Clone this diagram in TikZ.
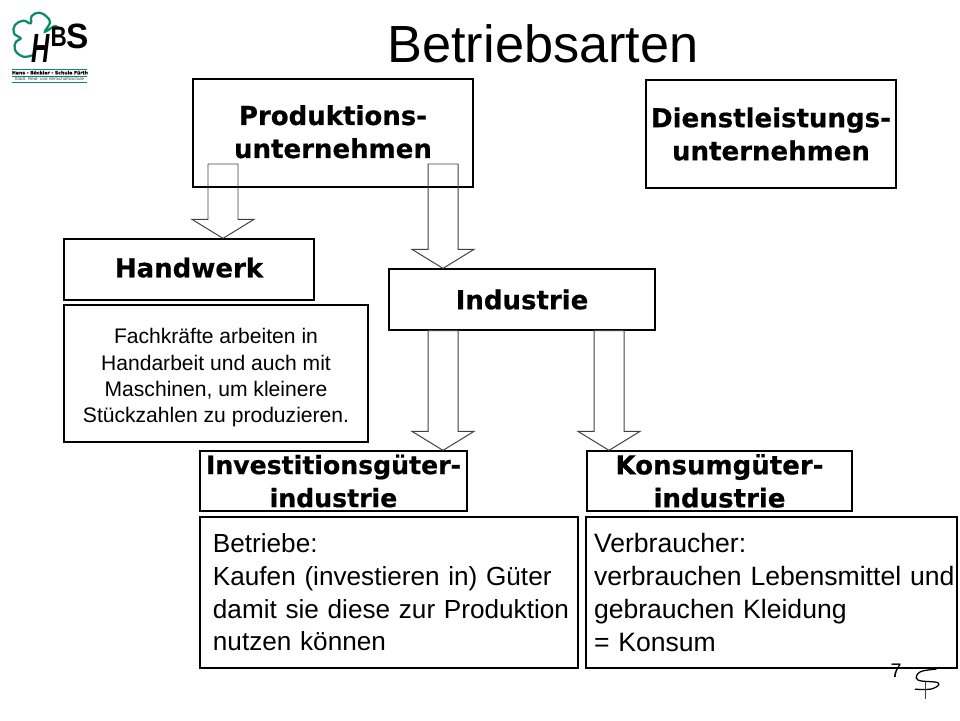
\documentclass[tikz,border=0pt]{standalone}
\usepackage{fontspec}
\setmainfont{Liberation Sans}
\newfontfamily\headfont[BoldFont={DejaVu Sans Bold}, BoldFeatures={FakeBold=0.6}]{DejaVu Sans}
\usepackage{tikz}
\usetikzlibrary{calc}
\definecolor{gray1}{rgb}{0.25, 0.25, 0.25}
\definecolor{green1}{rgb}{0.05, 0.55, 0.42}
\newcommand{\blockarrow}[2]{
\draw [hollow] ($(#1)+(-0.375,0)$)--($(#2)+(-0.375,0.475)$)--($(#2)+(-0.775,0.475)$)--(#2)--($(#2)+(0.775,0.475)$)--($(#2)+(0.375,0.475)$)--($(#1)+(0.375,0)$)--cycle;
}

\begin{document}
\begin{tikzpicture}
\tikzstyle{box} = [draw, line width = 0.9pt, inner sep=0pt];
\tikzstyle{head} = [box, font=\headfont\bfseries\fontsize{18.5}{23.5}\selectfont, align=center];
\tikzstyle{small} = [box, font=\fontsize{15}{18.7}\selectfont, align=center];
\tikzstyle{big} = [box, font=\fontsize{18.9}{23.3}\selectfont, align=left];
\tikzstyle{hollow} = [line width = 0.7pt, color=gray1];
\tikzstyle{clover} = [line width = 1.6pt, color=green1, line cap=round];
\tikzstyle{letter} = [inner sep=0pt, transform shape];

\useasboundingbox (0,0) rectangle (24,18);

\node (title) [font=\fontsize{37.2}{40}\selectfont] at (13.575,16.9) {Betriebsarten};

\node (prod) [head, minimum width=7cm, minimum height=2.7cm] at (8.325,14.675) {Produktions-\\unternehmen\rule[-2pt]{0pt}{2pt}};
\node (dienst) [head, minimum width=6.25cm, minimum height=2.7cm] at (19.275,14.65) {Dienstleistungs-\\unternehmen};
\node (hand) [head, minimum width=6.25cm, minimum height=1.525cm] at (4.725,11.2625) {Handwerk\rule[-3pt]{0pt}{3pt}};
\node (fach) [small, minimum width=7.6cm, minimum height=3.425cm] at (5.4,8.6625) {\rule{0pt}{17pt}Fachkräfte arbeiten in\\Handarbeit und auch mit\\Maschinen, um kleinere\\Stückzahlen zu produzieren.};
\node (ind) [head, minimum width=6.65cm, minimum height=1.525cm] at (13.05,10.5125) {Industrie};
\node (inv) [head, font=\headfont\bfseries\fontsize{17.9}{23.5}\selectfont, minimum width=6.675cm, minimum height=1.5cm] at (8.3375,5.975) {Investitionsgüter-\\industrie};
\node (kons) [head, minimum width=6.625cm, minimum height=1.5cm] at (17.9875,5.975) {Konsumgüter-\\industrie};
\node (betr) [big, font=\fontsize{18.6}{23.3}\selectfont, text width=9.45cm, minimum height=3.775cm, execute at begin node={\leftskip=9.2pt}] at (9.725,3.1875) {Betriebe:\\Kaufen (investieren in) Güter\\damit sie diese zur Produktion\\nutzen können};
\node (verb) [big, text width=9.275cm, minimum height=3.775cm, execute at begin node={\leftskip=5.7pt}] at (19.2875,3.1875) {Verbraucher:\\verbrauchen Lebensmittel und\\gebrauchen Kleidung\\= Konsum};

\coordinate (handtop) at (5.575,13.9);
\coordinate (indtop) at (11.075,13.9);
\coordinate (handtip) at (hand.north -| handtop);
\coordinate (indtip) at (ind.north -| indtop);
\coordinate (invtop) at (ind.south -| indtop);
\coordinate (invtip) at (inv.north -| indtop);
\coordinate (konstop) at (ind.south -| 15.225,0);
\coordinate (konstip) at (kons.north -| konstop);

\blockarrow{handtop}{handtip}
\blockarrow{indtop}{indtip}
\blockarrow{invtop}{invtip}
\blockarrow{konstop}{konstip}

\node (page) [font=\fontsize{14}{16}\selectfont] at (22.4,1.225) {7};
\draw [line width = 0.9pt, line cap=round] plot [smooth, tension=0.7] coordinates {(23.4,1.27) (23.0,1.2) (22.95,1.0) (23.45,0.93) (23.3,0.78) (22.88,0.77)};
\draw [line width = 0.6pt, color=gray1] (23.14,0.95)--(23.14,0.53);

\begin{scope}[shift={(0cm,18cm)}, x=0.00833cm, y=-0.00833cm]
\draw [clover] plot [smooth, tension=0.7] coordinates {(100,165) (70,170) (45,150) (48,125) (62,115) (42,100) (45,75) (70,62) (92,70) (95,48) (118,38) (140,50) (150,68) (135,95) (165,78) (175,85)};
\node (h) [letter, xscale=0.62, font=\fontsize{29}{29}\selectfont\bfseries\itshape] at (122,146) {H};
\node (b) [letter, xscale=0.8, font=\fontsize{20}{20}\selectfont\bfseries] at (176,112) {B};
\node (s) [letter, xscale=0.95, font=\fontsize{25}{25}\selectfont\bfseries] at (232,108) {S};
\node (hans) [inner sep=0pt, font=\headfont\bfseries\fontsize{3.3}{4}\selectfont] at (150,218) {Hans - Böckler - Schule Fürth};
\node (real) [inner sep=0pt, color=gray1, font=\fontsize{3.2}{4}\selectfont] at (148,238) {Städt. Real- und Wirtschaftsschule};
\draw [line width = 0.4pt, color=green1] (35,208)--(262,208);
\draw [line width = 0.4pt, color=green1] (35,228)--(262,228);
\draw [line width = 0.4pt, color=green1] (35,246)--(262,246);
\end{scope}
\end{tikzpicture}
\end{document}
